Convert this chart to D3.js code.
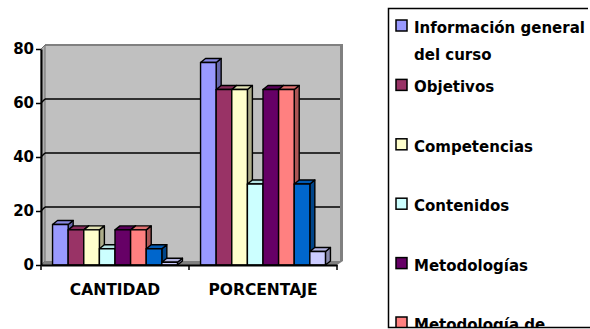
<!DOCTYPE html>
<html>
<head>
<meta charset="utf-8">
<script src="https://cdn.jsdelivr.net/npm/d3@7"></script>
<style>
  body { margin: 0; background: #fff; }
  text { font-family: "DejaVu Sans", sans-serif; font-weight: bold; fill: #000; }
</style>
</head>
<body>
<div id="chart"></div>
<script>
// Data
const categories = ["CANTIDAD", "PORCENTAJE"];
const seriesNames = [
    "Información general del curso",
    "Objetivos",
    "Competencias",
    "Contenidos",
    "Metodologías",
    "Metodología de evaluación",
    "Recursos",
    "Bibliografía"
];
const cantidad = [15, 13, 13, 6, 13, 13, 6, 1];
const porcentaje = [75, 65, 65, 30, 65, 65, 30, 5];
const yTicks = [0, 20, 40, 60, 80];
const seriesColors = ["#9999ff", "#993366", "#ffffcc", "#ccffff", "#660066", "#ff8080", "#0066cc", "#ccccff"];

const values = [cantidad, porcentaje];

const W = 590, H = 329;
const depth = { x: 4, y: -4 };      // back wall offset
const barDepth = { x: 5, y: -4 };   // bar 3d offset

const svg = d3.select("#chart").append("svg")
    .attr("width", W)
    .attr("height", H);

svg.append("rect").attr("width", W).attr("height", H).attr("fill", "#fff");

// Scales
const x = d3.scaleBand()
    .domain(categories)
    .range([41, 337])
    .padding(0);

const xInner = d3.scaleBand()
    .domain(d3.range(seriesNames.length))
    .range([0, x.bandwidth()])
    .paddingInner(0)
    .paddingOuter(0.74)
    .align(0.5);

const y = d3.scaleLinear()
    .domain([0, 80])
    .range([265, 49]);

const x0 = x.range()[0], x1 = x.range()[1];
const yb = y(0), yt = y(80);

// Walls and floor
const walls = svg.append("g");

// back wall with its darker rim
walls.append("rect")
    .attr("x", x0 + depth.x).attr("y", yt + depth.y - 1)
    .attr("width", x1 - x0 + 2).attr("height", yb - yt + 1)
    .attr("fill", "#808080");
walls.append("rect")
    .attr("x", x0 + depth.x).attr("y", yt + depth.y + 1)
    .attr("width", x1 - x0 - 1).attr("height", yb - yt - 1)
    .attr("fill", "#c0c0c0");

// side wall
walls.append("polygon")
    .attr("points", [[x0, yt], [x0 + depth.x, yt + depth.y], [x0 + depth.x, yb + depth.y], [x0, yb]].join(" "))
    .attr("fill", "#b0b0b0")
    .attr("stroke", "#707070")
    .attr("stroke-width", 1);

// floor
walls.append("polygon")
    .attr("points", [[x0, yb], [x0 + depth.x, yb + depth.y], [x1 + depth.x + 2, yb + depth.y], [x1, yb]].join(" "))
    .attr("fill", "#808080");

// gridlines on back wall and side wall
const grid = svg.append("g");
yTicks.filter(v => v > 0 && v < 80).forEach(v => {
    grid.append("line")
        .attr("x1", x0 + depth.x).attr("x2", x1 + depth.x - 1)
        .attr("y1", y(v) + depth.y).attr("y2", y(v) + depth.y)
        .attr("stroke", "#000").attr("stroke-width", 1.5);
    grid.append("line")
        .attr("x1", x0).attr("x2", x0 + depth.x)
        .attr("y1", y(v)).attr("y2", y(v) + depth.y)
        .attr("stroke", "#000").attr("stroke-width", 1.5);
});

// Bars (3d boxes)
const bars = [];
categories.forEach((cat, ci) => {
    seriesNames.forEach((name, si) => {
        bars.push({ cat: cat, si: si, value: values[ci][si] });
    });
});

const barG = svg.append("g")
    .attr("stroke", "#000")
    .attr("stroke-width", 1.4)
    .attr("stroke-linejoin", "round");

bars.forEach(d => {
    const bx0 = x(d.cat) + xInner(d.si);
    const bx1 = bx0 + xInner.bandwidth();
    const top = y(d.value);
    const c = d3.color(seriesColors[d.si]);
    const g = barG.append("g");
    // right side
    g.append("polygon")
        .attr("points", [[bx1, yb], [bx1, top], [bx1 + barDepth.x, top + barDepth.y], [bx1 + barDepth.x, yb + barDepth.y]].join(" "))
        .attr("fill", c.darker(1.1));
    // top
    g.append("polygon")
        .attr("points", [[bx0, top], [bx0 + barDepth.x, top + barDepth.y], [bx1 + barDepth.x, top + barDepth.y], [bx1, top]].join(" "))
        .attr("fill", c.darker(0.35));
    // front
    g.append("rect")
        .attr("x", bx0).attr("y", top)
        .attr("width", bx1 - bx0).attr("height", yb - top)
        .attr("fill", c);
});

// Axes
const yAxis = svg.append("g")
    .attr("transform", `translate(${x0},0)`)
    .call(d3.axisLeft(y).tickValues(yTicks).tickSize(5).tickSizeOuter(0).tickPadding(2));
yAxis.select(".domain").attr("stroke", "#000").attr("stroke-width", 2);
yAxis.selectAll(".tick line").attr("stroke", "#000").attr("stroke-width", 1.5);
yAxis.selectAll("text")
    .style("font-size", "15px")
    .style("font-family", "'DejaVu Sans', sans-serif")
    .style("font-weight", "bold")
    .attr("fill", "#000");

const xAxis = svg.append("g")
    .attr("transform", `translate(0,${yb})`)
    .call(d3.axisBottom(x).tickSize(0).tickSizeOuter(0).tickPadding(19));
xAxis.select(".domain").attr("stroke", "#000").attr("stroke-width", 2);
xAxis.selectAll("text")
    .style("font-size", "15.5px")
    .style("font-family", "'DejaVu Sans', sans-serif")
    .style("font-weight", "bold")
    .attr("fill", "#000");

// tick marks at category boundaries
const boundaries = categories.map(c => x(c)).concat([x1]);
xAxis.selectAll(".bound")
    .data(boundaries)
    .enter()
    .append("line")
    .attr("class", "bound")
    .attr("x1", d => d).attr("x2", d => d)
    .attr("y1", 0).attr("y2", 5)
    .attr("stroke", "#000").attr("stroke-width", 1.5);

// Legend (box runs past the bottom of the picture)
const legend = svg.append("g");
const lgLeft = 388.5, lgTop = 8.5, lgBottom = 327.5;

legend.append("clipPath").attr("id", "lgclip")
    .append("rect")
    .attr("x", lgLeft).attr("y", lgTop)
    .attr("width", W - lgLeft).attr("height", lgBottom - lgTop);

const items = legend.append("g").attr("clip-path", "url(#lgclip)");
const itemStep = 59.4, firstBase = 33, lineGap = 26.5, maxTextW = 196;

seriesNames.forEach((name, i) => {
    const base = firstBase + i * itemStep;
    if (base - 13 > lgBottom) return; // entry falls below the visible box
    items.append("rect")
        .attr("x", 396).attr("y", base - 13)
        .attr("width", 11).attr("height", 11)
        .attr("fill", seriesColors[i])
        .attr("stroke", "#000").attr("stroke-width", 1.5);
    const t = items.append("text")
        .attr("x", 414).attr("y", base)
        .style("font-size", "15px");
    // simple word wrap, lines below the box are dropped
    const words = name.split(" ");
    let line = [], lineNo = 0;
    let tspan = t.append("tspan").attr("x", 414).attr("y", base);
    words.forEach(w => {
        if (!tspan) return;
        line.push(w);
        tspan.text(line.join(" "));
        if (tspan.node().getComputedTextLength() > maxTextW && line.length > 1) {
            line.pop();
            tspan.text(line.join(" "));
            line = [w];
            lineNo++;
            const ny = base + lineNo * lineGap;
            tspan = ny - 11 > lgBottom ? null
                : t.append("tspan").attr("x", 414).attr("y", ny).text(w);
        }
    });
});

legend.append("path")
    .attr("d", `M${W - 2},${lgTop}H${lgLeft}V${lgBottom}H${W}`)
    .attr("fill", "none")
    .attr("stroke", "#000")
    .attr("stroke-width", 1.5);
</script>
</body>
</html>
